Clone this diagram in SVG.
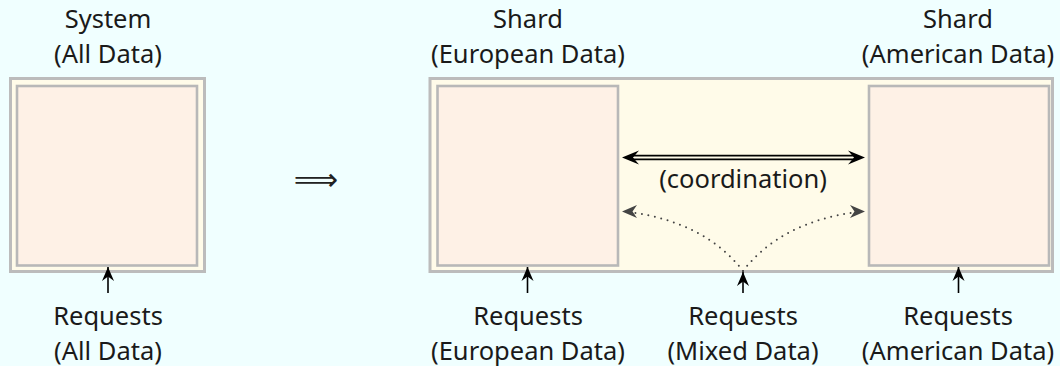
<svg xmlns="http://www.w3.org/2000/svg" width="1060" height="366" viewBox="0 0 1060 366">
  <style>
    .lbl { font-family: "Noto Sans", "DejaVu Sans", sans-serif; font-size: 25.5px; fill: #1a1a1a; text-anchor: middle; }
    .outer { fill: #fffbe9; stroke: #bcbcbc; stroke-width: 3; }
    .inner { fill: #fef1e6; stroke: #b8b8b8; stroke-width: 2.6; }
    .req { stroke: #000; stroke-width: 1.6; fill: none; }
    .dot { stroke: #444; stroke-width: 2; fill: none; stroke-linecap: round; stroke-dasharray: 0 6.6; }
  </style>
  <defs>
    <marker id="stealth" markerUnits="userSpaceOnUse" viewBox="-15 -7 17 14" refX="0" refY="0" markerWidth="17" markerHeight="14" orient="auto">
      <path d="M0,0 L-14,-6 L-9.5,0 L-14,6 Z" fill="#000"/>
    </marker>
  </defs>
  <rect x="0" y="0" width="1060" height="366" fill="#f0ffff"/>

  <g id="system">
    <rect class="outer" x="10.5" y="78.5" width="194" height="193"/>
    <rect class="inner" x="17" y="86" width="180" height="179.5"/>
    <text class="lbl" x="108" y="28">System</text>
    <text class="lbl" x="108" y="63">(All Data)</text>
  </g>

  <g id="implies">
    <text x="316" y="189.6" font-family="DejaVu Sans, sans-serif" font-size="31" fill="#222" text-anchor="middle">⟹</text>
  </g>

  <g id="sharded-system">
    <rect class="outer" x="430" y="78.5" width="622.5" height="193"/>
  </g>

  <g id="shard-eu">
    <rect class="inner" x="437.5" y="86" width="180.5" height="179.5"/>
    <text class="lbl" x="528" y="28">Shard</text>
    <text class="lbl" x="528" y="63">(European Data)</text>
  </g>

  <g id="shard-us">
    <rect class="inner" x="869" y="86" width="180" height="179.5"/>
    <text class="lbl" x="958" y="28">Shard</text>
    <text class="lbl" x="958" y="63">(American Data)</text>
  </g>

  <g id="req-all">
    <text class="lbl" x="108" y="325">Requests</text>
    <text class="lbl" x="108" y="360">(All Data)</text>
  </g>
  <g id="req-eu">
    <text class="lbl" x="528" y="325">Requests</text>
    <text class="lbl" x="528" y="360">(European Data)</text>
  </g>
  <g id="req-mixed">
    <text class="lbl" x="743" y="325">Requests</text>
    <text class="lbl" x="743" y="360">(Mixed Data)</text>
  </g>
  <g id="req-us">
    <text class="lbl" x="958" y="325">Requests</text>
    <text class="lbl" x="958" y="360">(American Data)</text>
  </g>

  <g id="connectors">
    <line class="req" x1="108" y1="293" x2="108" y2="267" marker-end="url(#stealth)"/>
    <line class="req" x1="527.5" y1="293" x2="527.5" y2="267" marker-end="url(#stealth)"/>
    <line class="req" x1="743" y1="293" x2="743" y2="272" marker-end="url(#stealth)"/>
    <line class="req" x1="958.5" y1="293" x2="958.5" y2="267" marker-end="url(#stealth)"/>

    <g id="coordination">
      <line x1="630" y1="157.5" x2="857" y2="157.5" stroke="#000" stroke-width="5.6"/>
      <line x1="629" y1="157.5" x2="858" y2="157.5" stroke="#fffbe9" stroke-width="2"/>
      <path d="M622,157.5 L639,150.5 L633,157.5 L639,164.5 Z" fill="#000"/>
      <path d="M865,157.5 L848,150.5 L854,157.5 L848,164.5 Z" fill="#000"/>
      <text class="lbl" x="743" y="188">(coordination)</text>
    </g>

    <path class="dot" d="M743,271 Q705,222 629,212"/>
    <path class="dot" d="M743,271 Q781,222 857,212"/>
    <path d="M622,211.5 L637,205 L632.5,211.5 L637,218 Z" fill="#444"/>
    <path d="M865,211.5 L850,205 L854.5,211.5 L850,218 Z" fill="#444"/>
  </g>
</svg>
